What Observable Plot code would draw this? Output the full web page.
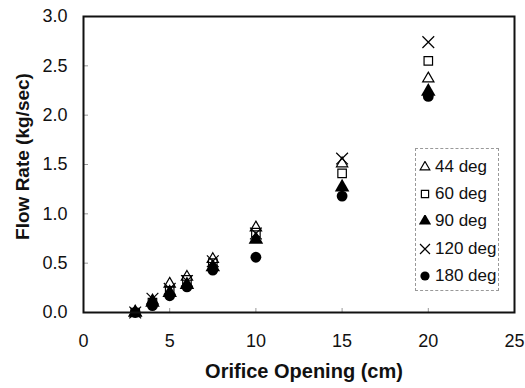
<!DOCTYPE html>
<html><head><meta charset="utf-8">
<script src="https://cdn.jsdelivr.net/npm/d3@7"></script>
<script src="https://cdn.jsdelivr.net/npm/@observablehq/plot@0.6"></script>
<style>
body{margin:0;background:#fff}
#c{position:relative;width:525px;height:388px;font-family:"Liberation Sans",Arial,sans-serif}
#legend{position:absolute;left:415px;top:148px;width:84px;height:143px;border:1px dashed #999;box-sizing:border-box;padding-top:4px}
#legend .row{height:27.3px;display:flex;align-items:center;font-size:17px;color:#111}
#legend svg{margin-left:3px;margin-right:4px}
</style>
</head><body><div id="c"><div id="legend"></div></div>
<script>
const openings = [3, 4, 5, 6, 7.5, 10, 15, 20];
const flow44  = [0, 0.12, 0.29, 0.36, 0.54, 0.86, 1.51, 2.37];
const flow60  = [0, 0.10, 0.22, 0.33, 0.50, 0.81, 1.41, 2.55];
const flow90  = [0, 0.10, 0.20, 0.28, 0.46, 0.74, 1.27, 2.24];
const flow120 = [0, 0.14, 0.24, 0.32, 0.52, 0.80, 1.56, 2.74];
const flow180 = [0, 0.07, 0.17, 0.26, 0.43, 0.56, 1.18, 2.19];
const seriesNames = ["44 deg", "60 deg", "90 deg", "120 deg", "180 deg"];
const xTicks = [0, 5, 10, 15, 20, 25];
const yTicks = [0, 0.5, 1, 1.5, 2, 2.5, 3];

const seriesValues = [flow44, flow60, flow90, flow120, flow180];
const symbolStyle = [
  {symbol: "triangle2", fill: "none", stroke: "black", d3sym: d3.symbolTriangle2},
  {symbol: "square2", fill: "none", stroke: "black", d3sym: d3.symbolSquare2},
  {symbol: "triangle", fill: "black", stroke: "none", d3sym: d3.symbolTriangle},
  {symbol: "times", fill: "none", stroke: "black", d3sym: d3.symbolTimes},
  {symbol: "circle", fill: "black", stroke: "none", d3sym: d3.symbolCircle}
];
const R = 5.4;

const dotMarks = seriesNames.map((name, i) => {
  const rows = openings.map((x, j) => ({x, y: seriesValues[i][j], series: name}));
  const s = symbolStyle[i];
  return Plot.dot(rows, {x: "x", y: "y", symbol: () => s.symbol, r: R, fill: s.fill, stroke: s.stroke, strokeWidth: 1.2});
});

const chart = Plot.plot({
  width: 525, height: 388,
  marginLeft: 83, marginRight: 11, marginTop: 16, marginBottom: 76,
  style: {fontFamily: '"Liberation Sans", Arial, sans-serif', fontSize: "18px", color: "#111", background: "white"},
  x: {domain: [0, 25]},
  y: {domain: [0, 3]},
  symbol: {type: "identity"},
  marks: [
    Plot.axisY(yTicks, {tickFormat: d3.format(".1f"), tickSize: 0, tickPadding: 16, label: null, fontSize: 18}),
    Plot.axisY(yTicks.slice(1, -1), {tickSize: 4, dx: 5, text: null, stroke: "#999", label: null}),
    Plot.axisX(xTicks, {tickFormat: d3.format("d"), tickSize: 0, tickPadding: 22, label: null, fontSize: 18}),
    Plot.axisX(xTicks.slice(1, -1), {tickSize: 4, dy: -4, text: null, stroke: "#999", label: null}),
    Plot.text(["Orifice Opening (cm)"], {frameAnchor: "bottom", dy: 65, fontSize: 20, fontWeight: "bold", fill: "#111", dx: 5}),
    Plot.text(["Flow Rate (kg/sec)"], {frameAnchor: "left", textAnchor: "middle", lineAnchor: "middle", rotate: -90, dx: -61, dy: -8, fontSize: 19, fontWeight: "bold", fill: "#111"}),
    ...dotMarks,
    Plot.frame({stroke: "#111", strokeWidth: 2})
  ]
});
document.getElementById("c").prepend(chart);

const legend = d3.select("#legend");
seriesNames.forEach((name, i) => {
  const s = symbolStyle[i];
  const row = legend.append("div").attr("class", "row");
  const svg = row.append("svg").attr("width", 12).attr("height", 12);
  svg.append("path")
    .attr("transform", "translate(6,6)")
    .attr("d", d3.symbol(s.d3sym, Math.PI * 4.6 * 4.6)())
    .attr("fill", s.fill).attr("stroke", s.stroke).attr("stroke-width", 1.2);
  row.append("span").text(name);
});
</script>
</body></html>
